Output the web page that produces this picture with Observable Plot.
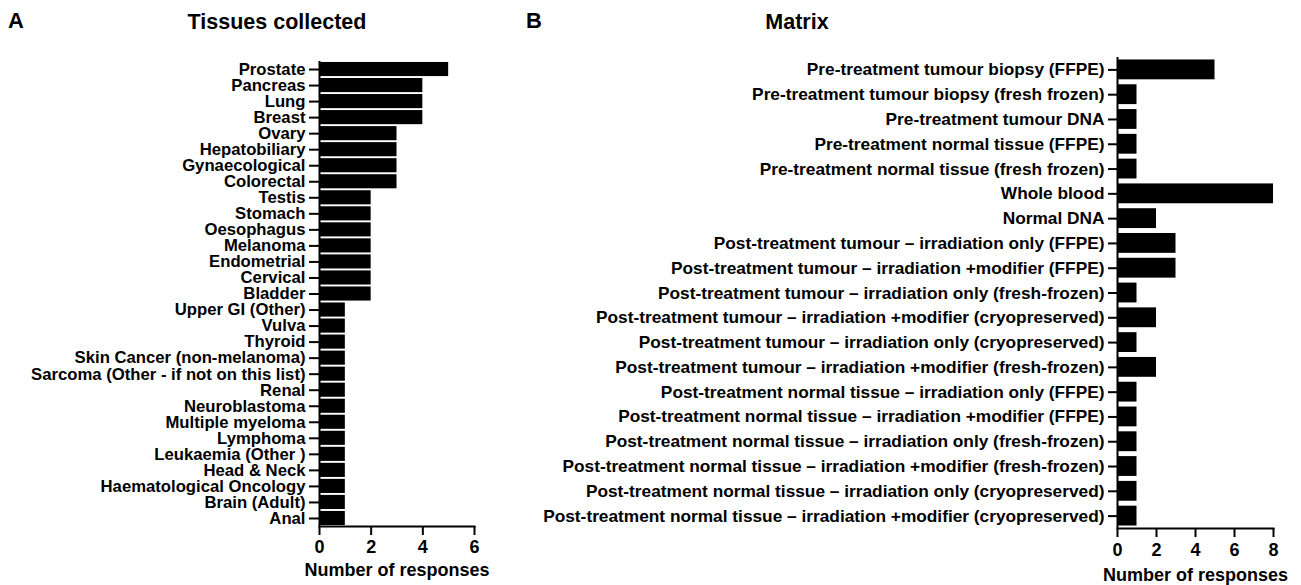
<!DOCTYPE html>
<html>
<head>
<meta charset="utf-8">
<script src="https://cdn.jsdelivr.net/npm/d3@7"></script>
<script src="https://cdn.jsdelivr.net/npm/@observablehq/plot@0.6"></script>
<style>
  html, body { margin: 0; padding: 0; background: #fff; }
  #wrap { position: relative; width: 1301px; height: 585px; overflow: hidden; font-family: "Liberation Sans", Arial, sans-serif; font-weight: bold; color: #000; background: #fff; }
  .t { position: absolute; white-space: nowrap; line-height: 1; z-index: 5; }
  .panel { position: absolute; top: 0; z-index: 1; }
</style>
</head>
<body>
<div id="wrap">
  <div class="panel" id="panelA" style="left:0px;"></div>
  <div class="panel" id="panelB" style="left:520px;"></div>
  <div class="t" style="left:8px; top:10px; font-size:22px;">A</div>
  <div class="t" id="titleA" style="left:277px; top:12px; font-size:21.5px; transform:translateX(-50%);">Tissues collected</div>
  <div class="t" style="left:526px; top:10px; font-size:22px;">B</div>
  <div class="t" id="titleB" style="left:797px; top:12px; font-size:21.5px; transform:translateX(-50%);">Matrix</div>
</div>
<script>
const tissues = [
  "Prostate", "Pancreas", "Lung", "Breast", "Ovary", "Hepatobiliary", "Gynaecological",
  "Colorectal", "Testis", "Stomach", "Oesophagus", "Melanoma", "Endometrial", "Cervical",
  "Bladder", "Upper GI (Other)", "Vulva", "Thyroid", "Skin Cancer (non-melanoma)",
  "Sarcoma (Other - if not on this list)", "Renal", "Neuroblastoma", "Multiple myeloma",
  "Lymphoma", "Leukaemia (Other )", "Head & Neck", "Haematological Oncology", "Brain (Adult)", "Anal"
];
const tissueCounts = [5, 4, 4, 4, 3, 3, 3, 3, 2, 2, 2, 2, 2, 2, 2, 1, 1, 1, 1, 1, 1, 1, 1, 1, 1, 1, 1, 1, 1];

const matrixItems = [
  "Pre-treatment tumour biopsy (FFPE)",
  "Pre-treatment tumour biopsy (fresh frozen)",
  "Pre-treatment tumour DNA",
  "Pre-treatment normal tissue (FFPE)",
  "Pre-treatment normal tissue (fresh frozen)",
  "Whole blood",
  "Normal DNA",
  "Post-treatment tumour \u2013 irradiation only (FFPE)",
  "Post-treatment tumour \u2013 irradiation +modifier (FFPE)",
  "Post-treatment tumour \u2013 irradiation only (fresh-frozen)",
  "Post-treatment tumour \u2013 irradiation +modifier (cryopreserved)",
  "Post-treatment tumour \u2013 irradiation only (cryopreserved)",
  "Post-treatment tumour \u2013 irradiation +modifier (fresh-frozen)",
  "Post-treatment normal tissue \u2013 irradiation only (FFPE)",
  "Post-treatment normal tissue \u2013 irradiation +modifier (FFPE)",
  "Post-treatment normal tissue \u2013 irradiation only (fresh-frozen)",
  "Post-treatment normal tissue \u2013 irradiation +modifier (fresh-frozen)",
  "Post-treatment normal tissue \u2013 irradiation only (cryopreserved)",
  "Post-treatment normal tissue \u2013 irradiation +modifier (cryopreserved)"
];
const matrixCounts = [5, 1, 1, 1, 1, 8, 2, 3, 3, 1, 2, 1, 2, 1, 1, 1, 1, 1, 1];

const xTicksA = [0, 2, 4, 6];
const xTicksB = [0, 2, 4, 6, 8];
const axisTitle = "Number of responses";

const dataA = tissues.map((name, i) => ({name, count: tissueCounts[i]}));
const dataB = matrixItems.map((name, i) => ({name, count: matrixCounts[i]}));

const baseStyle = {
  fontFamily: '"Liberation Sans", Arial, sans-serif',
  fontWeight: "bold",
  color: "black",
  background: "white",
  overflow: "visible"
};
const fmt = d3.format("d");

const plotA = Plot.plot({
  width: 500, height: 585,
  marginLeft: 319, marginRight: 26, marginTop: 61, marginBottom: 59,
  style: baseStyle,
  x: {domain: [0, 6], ticks: xTicksA, tickFormat: fmt},
  y: {domain: tissues, paddingInner: 0.12, paddingOuter: 0.06, round: false},
  marks: [
    Plot.barX(dataA, {x: "count", y: "name", fill: "black"}),
    Plot.axisY({tickSize: 10, tickPadding: 4, fontSize: 16.7, strokeWidth: 2, label: null}),
    Plot.axisX({ticks: xTicksA, tickFormat: fmt, tickSize: 9, tickPadding: 5, fontSize: 18, strokeWidth: 2, label: null}),
    Plot.ruleX([0], {strokeWidth: 2}),
    Plot.frame({anchor: "bottom", strokeWidth: 2}),
    Plot.text([axisTitle], {frameAnchor: "bottom", dy: 49, fontSize: 18, fontWeight: "bold"})
  ]
});
document.getElementById("panelA").appendChild(plotA);

const plotB = Plot.plot({
  width: 781, height: 585,
  marginLeft: 597, marginRight: 28, marginTop: 57, marginBottom: 57,
  style: baseStyle,
  x: {domain: [0, 8], ticks: xTicksB, tickFormat: fmt},
  y: {domain: matrixItems, paddingInner: 0.2, paddingOuter: 0.1, round: false},
  marks: [
    Plot.barX(dataB, {x: "count", y: "name", fill: "black"}),
    Plot.axisY({tickSize: 9, tickPadding: 4, fontSize: 17.3, strokeWidth: 2, label: null}),
    Plot.axisX({ticks: xTicksB, tickFormat: fmt, tickSize: 9, tickPadding: 6, fontSize: 18, strokeWidth: 2, label: null}),
    Plot.ruleX([0], {strokeWidth: 2}),
    Plot.frame({anchor: "bottom", strokeWidth: 2}),
    Plot.text([axisTitle], {frameAnchor: "bottom", dy: 52, fontSize: 18, fontWeight: "bold"})
  ]
});
document.getElementById("panelB").appendChild(plotB);
</script>
</body>
</html>
